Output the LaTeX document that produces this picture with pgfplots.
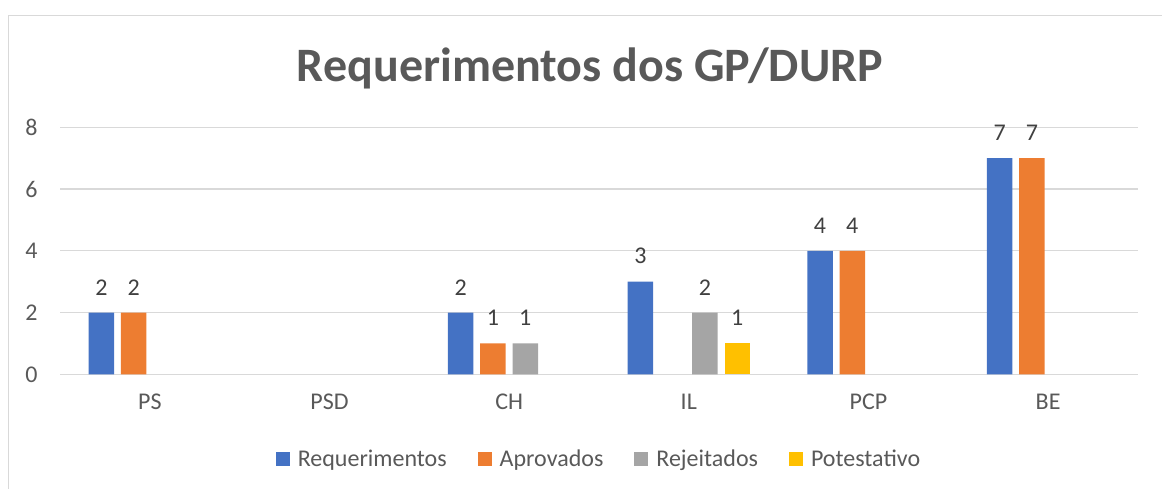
\documentclass[border=0pt]{standalone}
\usepackage{pgfplots}
\pgfplotsset{compat=1.18}
\usepackage{fontspec}
\setmainfont{Carlito}
\definecolor{cBlue}{HTML}{4472C4}
\definecolor{cOrange}{HTML}{ED7D31}
\definecolor{cGray}{HTML}{A5A5A5}
\definecolor{cGold}{HTML}{FFC000}
\definecolor{textc}{HTML}{595959}
\definecolor{labc}{HTML}{404040}
\definecolor{gridc}{HTML}{D9D9D9}
\begin{document}
\begin{tikzpicture}[x=1pt,y=1pt]
\useasboundingbox (0pt,0pt) rectangle (1162pt,488pt);
\draw[gridc, line width=1.2pt] (8.5pt,-50pt) rectangle (1300pt,472.5pt);
\node[anchor=base, font=\fontsize{48}{54}\selectfont\bfseries, text=textc] at (590pt,406pt) {Requerimentos dos GP/DURP};
\begin{axis}[
  at={(60pt,113.7pt)}, anchor=south west,
  width=1078pt, height=247pt, scale only axis,
  xmin=-0.5, xmax=5.5, ymin=0, ymax=8,
  xtick={0,1,2,3,4,5}, xticklabels={PS,PSD,CH,IL,PCP,BE},
  ytick={0,2,4,6,8},
  ymajorgrids, grid style={gridc, line width=1.2pt},
  axis line style={draw=none}, major tick length=0pt,
  ybar=6.8pt, bar width=25.5pt,
  tick label style={font=\fontsize{24}{28}\selectfont, text=textc},
  yticklabel style={xshift=-19pt},
  xticklabel style={yshift=-16pt},
  /pgf/number format/assume math mode=true,
  nodes near coords,
  every node near coord/.append style={font=\fontsize{24}{28}\selectfont, text=labc, yshift=14pt},
  legend columns=4,
  legend style={at={(0.5,-0.344)}, anchor=center, draw=none, fill=none,
    font=\fontsize{24}{28}\selectfont, text=textc,
    /tikz/every odd column/.append style={column sep=6pt},
    /tikz/every even column/.append style={column sep=29pt}},
  legend image code/.code={\fill[#1] (0pt,-7pt) rectangle (14pt,7pt);},
]
\addplot[fill=cBlue, draw=none] coordinates {(0,2) (2,2) (3,3) (4,4) (5,7)};
\addplot[fill=cOrange, draw=none] coordinates {(0,2) (2,1) (4,4) (5,7)};
\addplot[fill=cGray, draw=none] coordinates {(2,1) (3,2)};
\addplot[fill=cGold, draw=none] coordinates {(3,1)};
\legend{Requerimentos,Aprovados,Rejeitados,Potestativo}
\end{axis}
\end{tikzpicture}
\end{document}
